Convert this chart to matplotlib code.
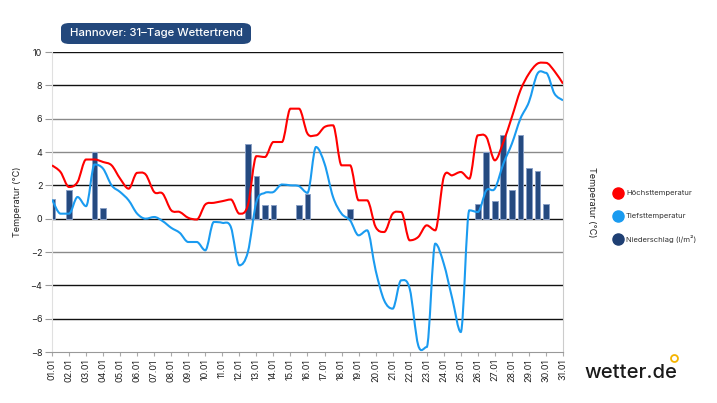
import numpy as np
import matplotlib
matplotlib.use('Agg')
import matplotlib.pyplot as plt
from matplotlib.patches import FancyBboxPatch, PathPatch
from matplotlib.path import Path
from matplotlib.lines import Line2D

plt.rcParams['font.family'] = ['Inter', 'DejaVu Sans']

# Datum-Beschriftung (31 Tage)
tage = [f"{d:02d}.01" for d in range(1, 32)]

# Höchst- und Tiefsttemperatur, alle 12 Stunden (61 Werte)
hoechst = [3.2, 2.8, 1.9, 2.2, 3.55, 3.55, 3.4, 3.2, 2.4, 1.8,
           2.75, 2.65, 1.6, 1.5, 0.5, 0.4, 0.05, -0.05, 0.85, 0.95,
           1.05, 1.15, 0.3, 0.8, 3.75, 3.7, 4.6, 4.6, 6.6, 6.6,
           5.1, 5.0, 5.5, 5.6, 3.2, 3.2, 1.1, 1.1, -0.5, -0.8,
           0.3, 0.4, -1.3, -1.1, -0.4, -0.7, 2.5, 2.6, 2.8, 2.4,
           5.0, 4.9, 3.5, 4.6, 6.1, 7.7, 8.7, 9.3, 9.35, 8.85, 8.1]
tiefst = [1.15, 0.3, 0.3, 1.3, 0.75, 3.25, 3.0, 2.0, 1.6, 1.1,
          0.3, 0.0, 0.1, -0.15, -0.55, -0.85, -1.4, -1.4, -1.9, -0.2,
          -0.25, -0.5, -2.8, -2.0, 1.0, 1.55, 1.6, 2.05, 2.0, 1.95,
          1.55, 4.3, 3.3, 1.3, 0.3, -0.1, -1.0, -0.7, -3.1, -4.9,
          -5.4, -3.7, -4.2, -7.6, -7.7, -1.5, -2.7, -4.8, -6.8, 0.5,
          0.4, 1.7, 1.8, 3.3, 4.5, 6.0, 7.0, 8.7, 8.75, 7.5, 7.1]

# Niederschlag (l/m²) je Halbtag-Index
nieder_idx = [0, 2, 5, 6, 23, 24, 25, 26, 29, 30, 35,
              50, 51, 52, 53, 54, 55, 56, 57, 58]
nieder_mm = [1.2, 1.7, 4.0, 0.65, 4.5, 2.55, 0.85, 0.85, 0.85, 1.5, 0.6,
             0.88, 4.0, 1.05, 5.05, 1.75, 5.0, 3.05, 2.85, 0.9]

y_ticks = [-8, -6, -4, -2, 0, 2, 4, 6, 8, 10]

rot = '#ff0000'
blau = '#1a9bf0'
navy = '#254a80'


def spline_path(x, y):
    # glatte Kurve durch die Punkte, ohne Überschwingen an Spitzen
    p = np.column_stack([x, y]).astype(float)
    n = len(p)

    def tangente(i):
        a = p[max(i - 1, 0)]
        b = p[min(i + 1, n - 1)]
        t = (b - a) / 6
        if 0 < i < n - 1 and (p[i, 1] - a[1]) * (b[1] - p[i, 1]) <= 0:
            t[1] = 0.0
        return t

    verts = [p[0]]
    codes = [Path.MOVETO]
    for i in range(n - 1):
        verts += [p[i] + tangente(i), p[i + 1] - tangente(i + 1), p[i + 1]]
        codes += [Path.CURVE4] * 3
    return Path(verts, codes)


fig = plt.figure(figsize=(7.17, 4.03), dpi=100)
ax = fig.add_axes([52/717, 51/403, 511/717, 300/403])

x_halb = np.arange(len(hoechst)) * 0.5

# Gitterlinien
for v in y_ticks[1:]:
    c = '#8a8a8a' if v in (6, 4, -2) else '#111111'
    ax.axhline(v, color=c, lw=1.0, zorder=1)

ax.bar(np.array(nieder_idx) * 0.5, nieder_mm, width=0.34, color=navy,
       edgecolor='#8aa0c6', linewidth=0.7, zorder=2)
for werte, farbe in [(hoechst, rot), (tiefst, blau)]:
    ax.add_patch(PathPatch(spline_path(x_halb, werte), facecolor='none',
                           edgecolor=farbe, lw=1.5, zorder=3))

ax.set_xlim(0, 30)
ax.set_ylim(-8, 10)
ax.set_yticks(y_ticks)
ax.set_xticks(range(31))
ax.set_xticklabels(tage, rotation=90, fontsize=6.5, color='#222222')
ax.tick_params(axis='x', length=3, color='#aaaaaa', pad=2)
ax.tick_params(axis='y', length=5, color='#999999', labelsize=6.5,
               labelcolor='#222222', right=True, labelright=True, pad=2)
ax.spines['top'].set_visible(False)
ax.spines['left'].set_color('#e0e0e0')
ax.spines['right'].set_color('#cccccc')
ax.spines['bottom'].set_color('#999999')
ax.set_ylabel('Temperatur (°C)', fontsize=6.5, labelpad=6, color='#222222')

ax2 = ax.twinx()
ax2.set_ylim(-8, 10)
ax2.set_yticks([])
for s in ax2.spines.values():
    s.set_visible(False)
ax2.set_ylabel('Temperatur (°C)', fontsize=6.5, rotation=270, labelpad=24,
               color='#222222')

# Titel-Box
fig.patches.append(FancyBboxPatch((61/717, 1 - 44/403), 190/717, 21/403,
                                  boxstyle='round,pad=0,rounding_size=0.012',
                                  transform=fig.transFigure, facecolor='#23487c',
                                  edgecolor='none'))
fig.text(156/717, 1 - 33.5/403, 'Hannover: 31–Tage Wettertrend', color='white',
         fontsize=8.2, ha='center', va='center', fontweight='medium')

# Legende
legende = [('Höchsttemperatur', rot), ('Tiefsttemperatur', blau),
           ('Niederschlag (l/m²)', '#1f3f73')]
for i, (name, farbe) in enumerate(legende):
    yy = 1 - (193 + 23 * i) / 403
    fig.add_artist(Line2D([618/717], [yy], marker='o', markersize=8,
                          color=farbe, transform=fig.transFigure))
    fig.text(626/717, yy, name, fontsize=5.5, va='center', color='#333333')

# Logo
fig.text(584/717, 1 - 373/403, 'wetter.de', fontsize=14.5, va='center',
         color='#1a1a1a', fontweight='medium')
fig.add_artist(Line2D([674/717], [1 - 358/403], marker='o', markersize=5,
                      markerfacecolor='none', markeredgecolor='#f5b400',
                      markeredgewidth=1.3, transform=fig.transFigure))

plt.savefig('out.png', dpi=100)
